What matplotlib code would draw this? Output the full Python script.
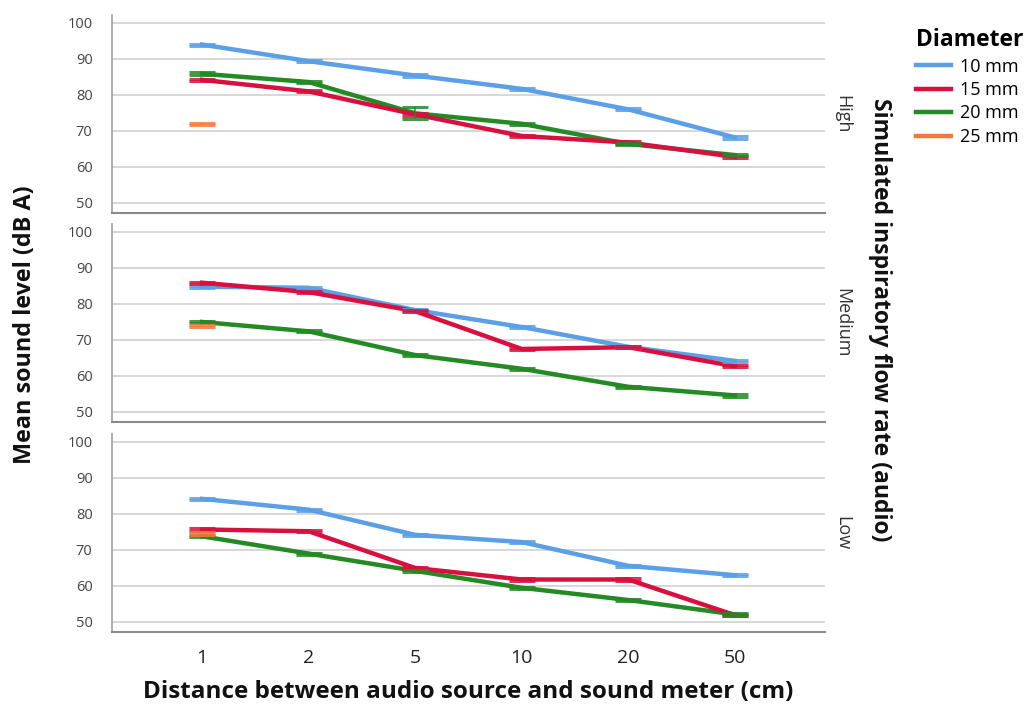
import matplotlib
matplotlib.use("Agg")
import matplotlib.pyplot as plt
from matplotlib.lines import Line2D
import numpy as np

plt.rcParams['font.family'] = ['Open Sans', 'DejaVu Sans']

distances = ["1", "2", "5", "10", "20", "50"]
diameters = ["10 mm", "15 mm", "20 mm", "25 mm"]
flow_rates = ["High", "Medium", "Low"]

# Mean sound level (dB A); None = not measured
high_10 = [94.0, 89.4, 85.4, 81.7, 76.0, 68.2]
high_15 = [84.2, 81.0, 74.6, 68.6, 66.8, 62.8]
high_20 = [85.9, 83.6, 74.9, 72.0, 66.4, 63.3]
high_25 = [72.0, None, None, None, None, None]

med_10 = [84.8, 84.5, 78.3, 73.6, 68.1, 64.2]
med_15 = [85.9, 83.3, 78.0, 67.5, 68.0, 62.7]
med_20 = [75.0, 72.4, 65.8, 62.0, 57.0, 54.6]
med_25 = [74.0, None, None, None, None, None]

low_10 = [84.2, 81.2, 74.2, 72.2, 65.6, 63.0]
low_15 = [75.7, 75.2, 65.0, 61.8, 61.8, 51.9]
low_20 = [73.8, 69.0, 64.2, 59.5, 56.1, 52.1]
low_25 = [74.6, None, None, None, None, None]

# error bar half-widths (dB A)
high_err_20 = [0.4, 0.4, 1.7, 0.3, 0.3, 0.3]
default_err = [0.3, 0.3, 0.3, 0.3, 0.3, 0.3]

colors = ["#5b9fe6", "#d8103f", "#238a24", "#f37a3c"]

panel_data = [
    [high_10, high_15, high_20, high_25],
    [med_10, med_15, med_20, med_25],
    [low_10, low_15, low_20, low_25],
]
panel_err = [
    [default_err, default_err, high_err_20, default_err],
    [default_err] * 4,
    [default_err] * 4,
]

W, H = 1033, 709
fig = plt.figure(figsize=(W / 100, H / 100), dpi=100)

left_px, right_px = 112, 825
tops = [15, 224, 434]
ph = 198
x = np.arange(len(distances))
axes = []
for i, top in enumerate(tops):
    ax = fig.add_axes([left_px / W, 1 - (top + ph) / H, (right_px - left_px) / W, ph / H])
    axes.append(ax)
    for j, series in enumerate(panel_data[i]):
        vals = np.array([np.nan if v is None else v for v in series], dtype=float)
        errs = np.array(panel_err[i][j], dtype=float)
        mask = ~np.isnan(vals)
        if mask.sum() > 1:
            ax.plot(x[mask], vals[mask], color=colors[j], lw=3.2, zorder=3 + (j == 1) * 0.5 + (j == 2) * 0.2)
        ax.errorbar(x[mask], vals[mask], yerr=errs[mask], fmt='none', ecolor=colors[j],
                    elinewidth=1.2, capsize=9.4, capthick=2.2, alpha=0.85, zorder=4)
    ax.set_xlim(-0.845, 5.845)
    ax.set_ylim(47.22, 102.22)
    ax.set_yticks([50, 60, 70, 80, 90, 100])
    ax.grid(axis='y', color='#d4d4d4', lw=1.3)
    ax.set_axisbelow(True)
    for s in ['top', 'right']:
        ax.spines[s].set_visible(False)
    ax.spines['left'].set_color('#a0a0a0')
    ax.spines['bottom'].set_color('#8a8a8a')
    ax.spines['left'].set_linewidth(1.2)
    ax.spines['bottom'].set_linewidth(1.5)
    ax.tick_params(axis='y', length=0, labelsize=10.5, labelcolor='#444444', pad=14)
    ax.set_xticks(x)
    if i < 2:
        ax.tick_params(axis='x', length=0, labelbottom=False)
    else:
        ax.set_xticklabels(distances)
        ax.tick_params(axis='x', length=0, labelsize=14, labelcolor='#222222', pad=12)
    ax.text(842 / W, 1 - (top + ph / 2) / H, flow_rates[i], transform=fig.transFigure,
            rotation=-90, ha='center', va='center', fontsize=13, color='#333333')

fig.text(25 / W, 1 - 325 / H, "Mean sound level (dB A)", rotation=90, ha='center', va='center',
         fontsize=16.8, fontweight='bold', color='#111111')
fig.text(880 / W, 1 - 320 / H, "Simulated inspiratory flow rate (audio)", rotation=-90,
         ha='center', va='center', fontsize=16.6, fontweight='bold', color='#111111')
fig.text(468 / W, 1 - 692 / H, "Distance between audio source and sound meter (cm)",
         ha='center', va='center', fontsize=17.5, fontweight='bold', color='#111111')

handles = [Line2D([0], [0], color=c, lw=3.2) for c in colors]
leg = fig.legend(handles, diameters, title="Diameter", loc='upper left',
                 bbox_to_anchor=(900 / W, 1 - 12 / H), frameon=False, fontsize=13,
                 handlelength=1.9, handletextpad=0.5, labelspacing=0.3,
                 title_fontproperties={'weight': 'bold', 'size': 16.5})
leg._legend_box.align = "left"

fig.savefig("out.png", dpi=100)
